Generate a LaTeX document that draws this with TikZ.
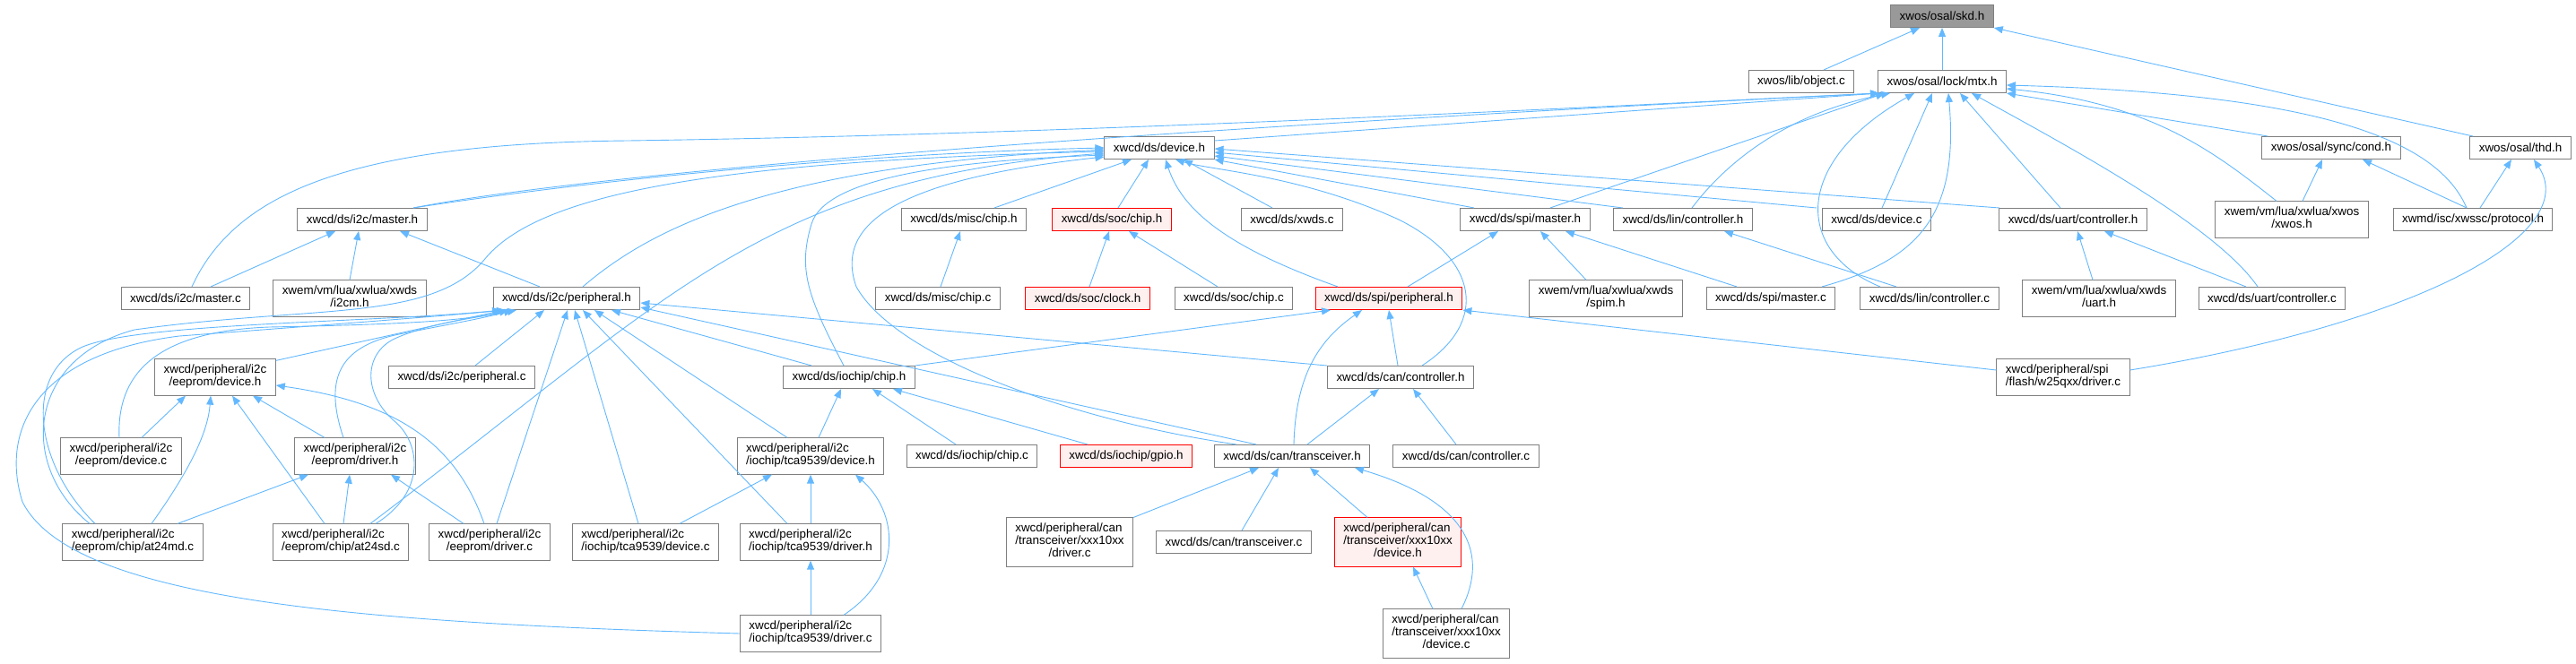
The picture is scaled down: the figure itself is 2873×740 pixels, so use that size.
\documentclass[tikz,border=0pt]{standalone}
\usepackage{fontspec}
\setmainfont{Liberation Sans}
\usetikzlibrary{arrows.meta}
\definecolor{edgeblue}{HTML}{63B8FF}
\definecolor{boxgray}{HTML}{7F7F7F}
\definecolor{rootgray}{HTML}{999999}
\definecolor{cutfill}{HTML}{FFF0F0}
\renewcommand{\arraystretch}{0.92}
\newcommand{\twoline}[2]{\begin{tabular}{@{}l@{}}#1\\\multicolumn{1}{@{}c@{}}{#2}\end{tabular}}
\newcommand{\threeline}[3]{\begin{tabular}{@{}l@{}}#1\\#2\\\multicolumn{1}{@{}c@{}}{#3}\end{tabular}}
\begin{document}
\begin{tikzpicture}
  [x=1pt, y=-1pt,
   filebox/.style={draw=boxgray, fill=white, line width=1pt, inner xsep=10pt, inner ysep=6.3pt,
     minimum height=25pt, font=\fontsize{13.4}{15}\selectfont},
   rootbox/.style={filebox, fill=rootgray},
   cutbox/.style={filebox, draw=red, fill=cutfill},
   dep/.style={-{Triangle[length=10pt,width=8pt]}, draw=edgeblue, line width=0.9pt}]
  \useasboundingbox (0,0) rectangle (2873,740);

  \node[rootbox] (skd) at (2166,18) {xwos/osal/skd.h};
  \node[filebox] (objc) at (2009,91) {xwos/lib/object.c};
  \node[filebox] (mtx) at (2166,91) {xwos/osal/lock/mtx.h};
  \node[filebox] (devh) at (1293,165) {xwcd/ds/device.h};
  \node[filebox] (cond) at (2600,165) {xwos/osal/sync/cond.h};
  \node[filebox] (thd) at (2811,165) {xwos/osal/thd.h};

  \node[filebox] (i2cmh) at (404,245) {xwcd/ds/i2c/master.h};
  \node[filebox] (mischh) at (1075,245) {xwcd/ds/misc/chip.h};
  \node[cutbox] (socch) at (1240,245) {xwcd/ds/soc/chip.h};
  \node[filebox] (xwdsc) at (1441,245) {xwcd/ds/xwds.c};
  \node[filebox] (spimh) at (1701,245) {xwcd/ds/spi/master.h};
  \node[filebox] (linch) at (1877,245) {xwcd/ds/lin/controller.h};
  \node[filebox] (devc) at (2093,245) {xwcd/ds/device.c};
  \node[filebox] (uartch) at (2312,245) {xwcd/ds/uart/controller.h};
  \node[filebox] (xwosh) at (2556,245) {\twoline{xwem/vm/lua/xwlua/xwos}{/xwos.h}};
  \node[filebox] (proto) at (2758,245) {xwmd/isc/xwssc/protocol.h};

  \node[filebox] (i2cmc) at (207,333) {xwcd/ds/i2c/master.c};
  \node[filebox] (i2cm) at (390,333) {\twoline{xwem/vm/lua/xwlua/xwds}{/i2cm.h}};
  \node[filebox] (i2cph) at (632,333) {xwcd/ds/i2c/peripheral.h};
  \node[filebox] (miscc) at (1046,333) {xwcd/ds/misc/chip.c};
  \node[cutbox] (socclk) at (1213,333) {xwcd/ds/soc/clock.h};
  \node[filebox] (soccc) at (1376,333) {xwcd/ds/soc/chip.c};
  \node[cutbox] (spiph) at (1549,333) {xwcd/ds/spi/peripheral.h};
  \node[filebox] (spim) at (1791,333) {\twoline{xwem/vm/lua/xwlua/xwds}{/spim.h}};
  \node[filebox] (spimc) at (1975,333) {xwcd/ds/spi/master.c};
  \node[filebox] (lincc) at (2152,333) {xwcd/ds/lin/controller.c};
  \node[filebox] (uarth) at (2341,333) {\twoline{xwem/vm/lua/xwlua/xwds}{/uart.h}};
  \node[filebox] (uartcc) at (2534,333) {xwcd/ds/uart/controller.c};

  \node[filebox] (eepdh) at (240,421) {\twoline{xwcd/peripheral/i2c}{/eeprom/device.h}};
  \node[filebox] (i2cpc) at (515,421) {xwcd/ds/i2c/peripheral.c};
  \node[filebox] (iochh) at (947,421) {xwcd/ds/iochip/chip.h};
  \node[filebox] (canch) at (1562,421) {xwcd/ds/can/controller.h};
  \node[filebox] (w25) at (2301,421) {\twoline{xwcd/peripheral/spi}{/flash/w25qxx/driver.c}};

  \node[filebox] (eepdc) at (135,509) {\twoline{xwcd/peripheral/i2c}{/eeprom/device.c}};
  \node[filebox] (eepdrh) at (396,509) {\twoline{xwcd/peripheral/i2c}{/eeprom/driver.h}};
  \node[filebox] (tcadh) at (904,509) {\twoline{xwcd/peripheral/i2c}{/iochip/tca9539/device.h}};
  \node[filebox] (iochc) at (1084,509) {xwcd/ds/iochip/chip.c};
  \node[cutbox] (gpio) at (1256,509) {xwcd/ds/iochip/gpio.h};
  \node[filebox] (canth) at (1441,509) {xwcd/ds/can/transceiver.h};
  \node[filebox] (cancc) at (1635,509) {xwcd/ds/can/controller.c};

  \node[filebox] (at24md) at (148,605) {\twoline{xwcd/peripheral/i2c}{/eeprom/chip/at24md.c}};
  \node[filebox] (at24sd) at (380,605) {\twoline{xwcd/peripheral/i2c}{/eeprom/chip/at24sd.c}};
  \node[filebox] (eepdrc) at (546,605) {\twoline{xwcd/peripheral/i2c}{/eeprom/driver.c}};
  \node[filebox] (tcadc) at (720,605) {\twoline{xwcd/peripheral/i2c}{/iochip/tca9539/device.c}};
  \node[filebox] (tcadrh) at (904,605) {\twoline{xwcd/peripheral/i2c}{/iochip/tca9539/driver.h}};
  \node[filebox] (xdrvc) at (1193,605) {\threeline{xwcd/peripheral/can}{/transceiver/xxx10xx}{/driver.c}};
  \node[filebox] (cantc) at (1376,605) {xwcd/ds/can/transceiver.c};
  \node[cutbox] (xdevh) at (1559,605) {\threeline{xwcd/peripheral/can}{/transceiver/xxx10xx}{/device.h}};

  \node[filebox] (tcadrc) at (904,707) {\twoline{xwcd/peripheral/i2c}{/iochip/tca9539/driver.c}};
  \node[filebox] (xdevc) at (1613,707) {\threeline{xwcd/peripheral/can}{/transceiver/xxx10xx}{/device.c}};

  % skd.h
  \draw[dep] ([xshift=25]objc.north) -- ([xshift=-25]skd.south);
  \draw[dep] (mtx) -- (skd);
  \draw[dep] ([xshift=-53]thd.north) -- (skd.south east);

  % mtx.h
  \draw[dep] ([xshift=7]i2cmc.north) .. controls (260,220) and (380,160) .. (700,157) .. controls (1200,150) and (1800,118) .. ([xshift=-70]mtx.south);
  \draw[dep] ([xshift=57]i2cmh.north) .. controls (650,195) and (1200,148) .. ([xshift=-70]mtx.south);
  \draw[dep] ([yshift=-5]devh.north east) -- ([xshift=-70]mtx.south);
  \draw[dep] ([xshift=28]spimh.north) -- ([xshift=-64]mtx.south);
  \draw[dep] ([xshift=10]linch.north) .. controls (1930,175) and (2000,125) .. ([xshift=-58]mtx.south);
  \draw[dep] ([xshift=6]devc.north) -- ([xshift=-11]mtx.south);
  \draw[dep] ([xshift=-14]uartch.north) -- ([xshift=20]mtx.south);
  \draw[dep] ([xshift=-71]cond.north) -- (mtx.south east);
  \draw[dep] ([xshift=-17]xwosh.north) .. controls (2470,170) and (2400,115) .. ([yshift=-8]mtx.east);
  \draw[dep] ([xshift=-7]proto.north) .. controls (2720,160) and (2600,105) .. ([yshift=-4]mtx.east);
  \draw[dep] ([xshift=57]spimc.north) .. controls (2140,290) and (2185,240) .. ([xshift=7]mtx.south);
  \draw[dep] ([xshift=-55]lincc.north) .. controls (2000,280) and (2000,180) .. ([xshift=-31]mtx.south);
  \draw[dep] ([xshift=-16]uartcc.north) .. controls (2470,250) and (2300,160) .. ([xshift=33]mtx.south);

  % cond.h, thd.h
  \draw[dep] ([xshift=12]xwosh.north) -- ([xshift=-10]cond.south);
  \draw[dep] ([xshift=-7]proto.north) -- ([xshift=35]cond.south);
  \draw[dep] ([xshift=8]proto.north) -- ([xshift=-10]thd.south);
  \draw[dep] ([yshift=8]w25.east) .. controls (2700,360) and (2880,260) .. ([xshift=15]thd.south);

  % i2c/master.h
  \draw[dep] ([xshift=28]i2cmc.north) -- ([xshift=-30]i2cmh.south);
  \draw[dep] (i2cm.north) -- ([xshift=-4]i2cmh.south);
  \draw[dep] ([xshift=-30]i2cph.north) -- ([xshift=42]i2cmh.south);

  % device.h
  \draw[dep] ([xshift=57]i2cmh.north) .. controls (700,195) and (1000,170) .. (devh.west);
  \draw[dep] ([xshift=18]i2cph.north) .. controls (720,260) and (850,185) .. ([yshift=-2]devh.west);
  \draw[dep] ([xshift=-48]at24md.north) .. controls (20,520) and (30,400) .. (150,368) .. controls (350,340) and (480,360) .. (540,290) .. controls (600,215) and (800,180) .. ([yshift=-4]devh.west);
  \draw[dep] ([xshift=33]at24sd.north) .. controls (750,330) and (850,200) .. ([yshift=-6]devh.west);
  \draw[dep] ([xshift=-6]iochh.north) .. controls (900,330) and (890,300) .. (905,250) .. controls (920,200) and (1050,180) .. ([yshift=-8]devh.west);
  \draw[dep] ([xshift=-62]canth.north) .. controls (1200,470) and (1000,400) .. (955,320) .. controls (930,250) and (1000,200) .. ([yshift=-10]devh.west);
  \draw[dep] ([xshift=34]mischh.north) -- ([xshift=-31]devh.south);
  \draw[dep] ([xshift=7]socch.north) -- ([xshift=-12]devh.south);
  \draw[dep] ([xshift=-57]spiph.north) .. controls (1380,280) and (1320,240) .. ([xshift=7]devh.south);
  \draw[dep] ([xshift=-22]xwdsc.north) -- ([xshift=27]devh.south);
  \draw[dep] ([xshift=24]canch.north) .. controls (1660,360) and (1650,290) .. (1560,245) .. controls (1450,195) and (1350,190) .. ([xshift=18]devh.south);
  \draw[dep] ([xshift=-57]spimh.north) -- (devh.south east);
  \draw[dep] ([xshift=-67]linch.north) -- ([yshift=-9]devh.east);
  \draw[dep] ([xshift=-67]devc.north) -- ([yshift=-5]devh.east);
  \draw[dep] ([xshift=-82]uartch.north) -- ([yshift=-1]devh.east);

  % second row headers
  \draw[dep] ([xshift=21]spiph.north) -- ([xshift=-30]spimh.south);
  \draw[dep] ([xshift=-22]spim.north) -- ([xshift=17]spimh.south);
  \draw[dep] ([xshift=-38]spimc.north) -- ([xshift=45]spimh.south);
  \draw[dep] ([xshift=-37]lincc.north) -- ([xshift=46]linch.south);
  \draw[dep] ([xshift=-7]uarth.north) -- ([xshift=5]uartch.south);
  \draw[dep] ([xshift=-29]uartcc.north) -- ([xshift=35]uartch.south);
  \draw[dep] ([xshift=3]miscc.north) -- ([xshift=-4]mischh.south);
  \draw[dep] ([xshift=2]socclk.north) -- ([xshift=-3]socch.south);
  \draw[dep] ([xshift=-18]soccc.north) -- ([xshift=19]socch.south);

  % spi/peripheral.h
  \draw[dep] (iochh.north east) -- ([xshift=-65]spiph.south);
  \draw[dep] ([xshift=2]canth.north) .. controls (1445,420) and (1470,380) .. ([xshift=-30]spiph.south);
  \draw[dep] ([xshift=-3]canch.north) -- (spiph.south);
  \draw[dep] ([yshift=8]w25.west) -- (spiph.south east);

  % i2c/peripheral.h
  \draw[dep] ([yshift=-2]eepdh.north east) -- ([xshift=-70]i2cph.south);
  \draw[dep] ([xshift=-2]eepdc.north) .. controls (130,420) and (170,370) .. (300,365) .. controls (450,362) and (520,358) .. ([xshift=-65]i2cph.south);
  \draw[dep] ([xshift=-13]eepdrh.north) .. controls (360,420) and (380,385) .. (450,372) .. controls (500,362) and (540,355) .. ([xshift=-60]i2cph.south);
  \draw[dep] ([xshift=-42]at24md.north) .. controls (40,520) and (25,420) .. (90,388) .. controls (150,360) and (420,360) .. ([xshift=-73]i2cph.south);
  \draw[dep] ([xshift=39]at24sd.north) .. controls (475,550) and (470,495) .. (440,470) .. controls (405,440) and (405,395) .. (440,378) .. controls (480,360) and (530,355) .. ([xshift=-56]i2cph.south);
  \draw[dep] ([xshift=8]eepdrc.north) -- ([xshift=1]i2cph.south);
  \draw[dep] ([xshift=15]i2cpc.north) -- ([xshift=-25]i2cph.south);
  \draw[dep] ([xshift=-8]tcadc.north) -- ([xshift=9]i2cph.south);
  \draw[dep] ([xshift=-26]tcadrh.north) -- ([xshift=18]i2cph.south);
  \draw[dep] ([xshift=-26]tcadh.north) -- ([xshift=31]i2cph.south);
  \draw[dep] (tcadrc.west) .. controls (400,695) and (80,670) .. (25,560) .. controls (0,480) and (40,395) .. (200,375) .. controls (400,360) and (500,352) .. ([xshift=-68]i2cph.south);
  \draw[dep] ([xshift=-42]iochh.north) -- ([xshift=50]i2cph.south);
  \draw[dep] (canch.north west) -- ([yshift=-5]i2cph.east);
  \draw[dep] ([xshift=-40]canth.north) -- ([yshift=-10]i2cph.east);

  % eeprom
  \draw[dep] ([xshift=23]eepdc.north) -- ([xshift=-33]eepdh.south);
  \draw[dep] ([xshift=21]at24md.north) .. controls (215,520) and (232,480) .. ([xshift=-5]eepdh.south);
  \draw[dep] ([xshift=-18]at24sd.north) -- ([xshift=19]eepdh.south);
  \draw[dep] ([xshift=-34]eepdrh.north) -- ([xshift=42]eepdh.south);
  \draw[dep] ([xshift=-6]eepdrc.north) .. controls (510,500) and (450,450) .. ([yshift=-9]eepdh.east);
  \draw[dep] ([xshift=50]at24md.north) -- ([xshift=-52]eepdrh.south);
  \draw[dep] ([xshift=3]at24sd.north) -- ([xshift=-6]eepdrh.south);
  \draw[dep] ([xshift=-29]eepdrc.north) -- ([xshift=40]eepdrh.south);

  % tca9539
  \draw[dep] ([xshift=38]tcadc.north) -- ([xshift=-43]tcadh.south);
  \draw[dep] (tcadrh) -- (tcadh);
  \draw[dep] ([xshift=37]tcadrc.north) .. controls (1010,640) and (1000,570) .. ([xshift=50]tcadh.south);
  \draw[dep] (tcadrc) -- (tcadrh);

  % iochip
  \draw[dep] ([xshift=9]tcadh.north) -- ([xshift=-9]iochh.south);
  \draw[dep] ([xshift=-18]iochc.north) -- ([xshift=26]iochh.south);
  \draw[dep] ([xshift=-43]gpio.north) -- ([xshift=49]iochh.south);

  % can
  \draw[dep] ([xshift=17]canth.north) -- ([xshift=-24]canch.south);
  \draw[dep] ([xshift=-11]cancc.north) -- ([xshift=14]canch.south);
  \draw[dep] (xdrvc.north east) -- ([xshift=-37]canth.south);
  \draw[dep] ([xshift=9]cantc.north) -- ([xshift=-15]canth.south);
  \draw[dep] ([xshift=-34]xdevh.north) -- ([xshift=20]canth.south);
  \draw[dep] ([xshift=17]xdevc.north) .. controls (1660,620) and (1640,560) .. ([xshift=70]canth.south);
  \draw[dep] ([xshift=-15]xdevc.north) -- ([xshift=17]xdevh.south);
\end{tikzpicture}
\end{document}
